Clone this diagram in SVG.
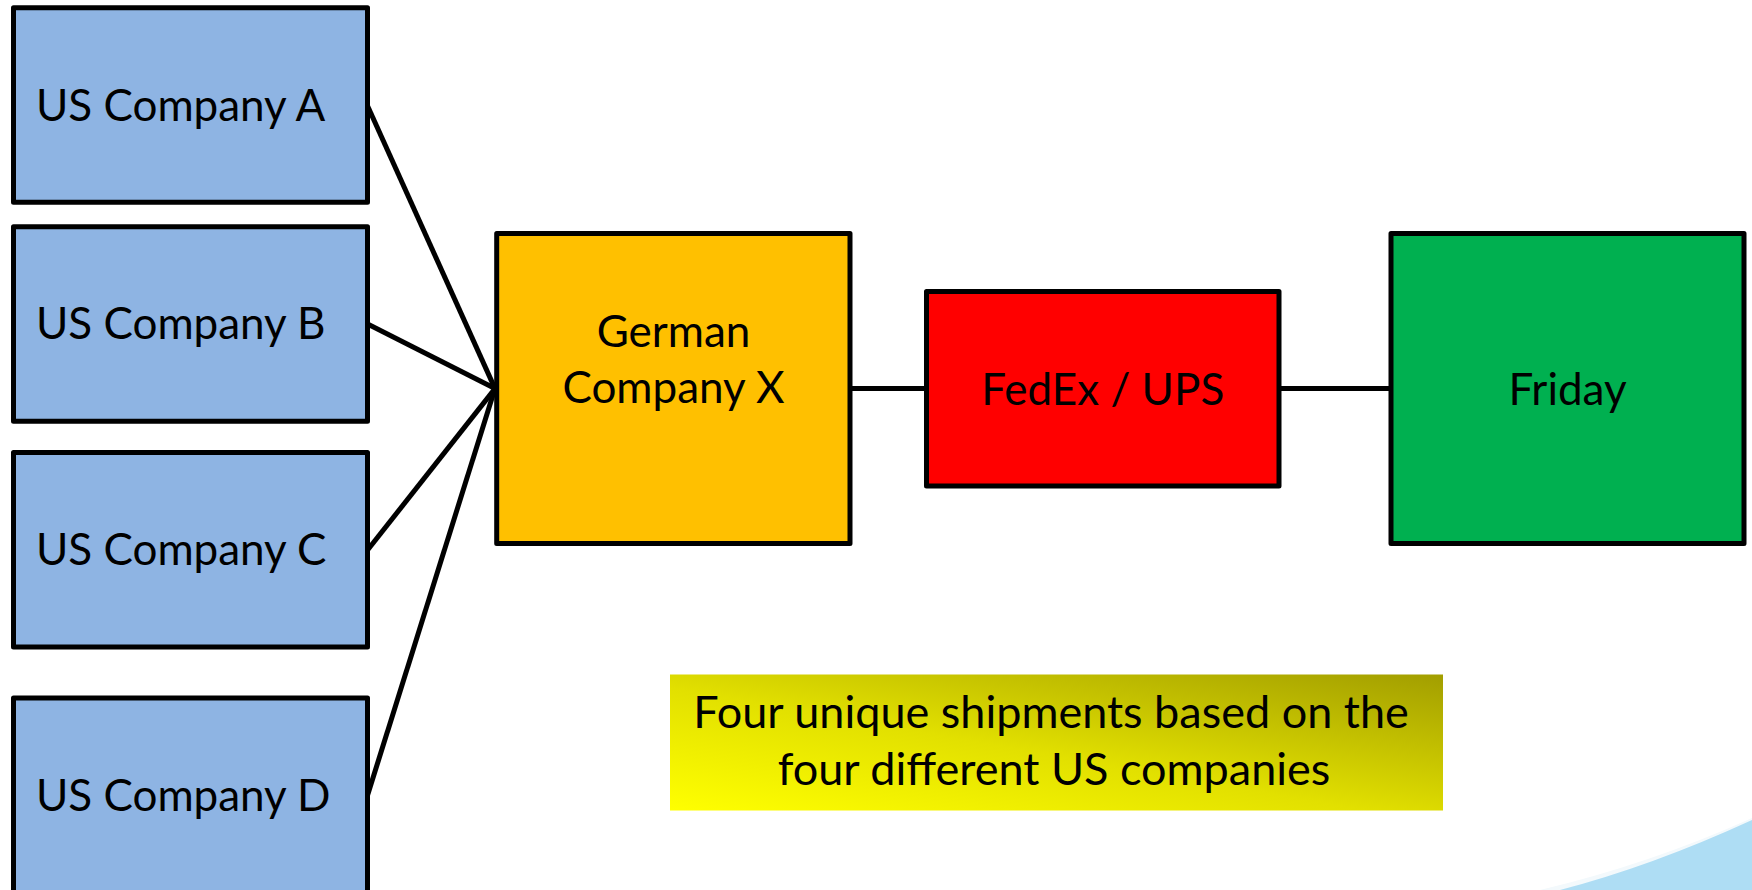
<svg xmlns="http://www.w3.org/2000/svg" width="1752" height="890" viewBox="0 0 1752 890">
<style>
.node{stroke:#000;stroke-width:5;stroke-linejoin:round}
.us{fill:#8EB4E3}
.lbl{font-family:Lato,"Open Sans","Liberation Sans",sans-serif;font-size:44px;fill:#000}
.note{font-size:45px}
.mid{text-anchor:middle}
.conn{stroke:#000;stroke-width:5;fill:none}
</style>
<defs>
<linearGradient id="yg" x1="0" y1="1" x2="1" y2="0">
<stop offset="0" stop-color="#FFFF00"/>
<stop offset="0.45" stop-color="#E2E000"/>
<stop offset="1" stop-color="#A29E00"/>
</linearGradient>
</defs>
<rect width="1752" height="890" fill="#FFFFFF"/>
<g id="swoosh">
<path d="M1540,890 Q1650,864 1752,818 L1752,890 Z" fill="#F3F9FC"/>
<path d="M1560,890 Q1652,866 1752,820 L1752,890 Z" fill="#AEDDF4"/>
</g>
<g id="connectors">
<line class="conn" x1="367.6" y1="106" x2="495" y2="388.6"/>
<line class="conn" x1="367.6" y1="324" x2="495" y2="388.6"/>
<line class="conn" x1="367.6" y1="550" x2="495" y2="388.6"/>
<line class="conn" x1="367.6" y1="795" x2="495" y2="388.6"/>
<line class="conn" x1="850" y1="388.6" x2="926.5" y2="388.6"/>
<line class="conn" x1="1279" y1="388.6" x2="1391" y2="388.6"/>
</g>
<g id="usA">
<rect class="node us" x="13.5" y="7.8" width="354" height="194.5"/>
<text class="lbl" x="36" y="121">US Company A</text>
</g>
<g id="usB">
<rect class="node us" x="13.5" y="226.8" width="354" height="194.5"/>
<text class="lbl" x="36" y="338.5">US Company B</text>
</g>
<g id="usC">
<rect class="node us" x="13.5" y="452.5" width="354" height="194.5"/>
<text class="lbl" x="36" y="565">US Company C</text>
</g>
<g id="usD">
<rect class="node us" x="13.5" y="698" width="354" height="194.5"/>
<text class="lbl" x="36" y="810.7">US Company D</text>
</g>
<g id="german">
<rect class="node" x="496.7" y="233.4" width="353.3" height="310" fill="#FFC000"/>
<text class="lbl mid" x="673.5" y="346.7">German</text>
<text class="lbl mid" x="673.5" y="402.7">Company X</text>
</g>
<g id="fedex">
<rect class="node" x="926.5" y="291.5" width="352.5" height="194.5" fill="#FF0000"/>
<text class="lbl mid" x="1102.8" y="404.5">FedEx / UPS</text>
</g>
<g id="friday">
<rect class="node" x="1391" y="233.4" width="353" height="310" fill="#00B050"/>
<text class="lbl mid" x="1567.5" y="404.5">Friday</text>
</g>
<g id="note">
<rect x="670" y="674.5" width="773" height="136" fill="url(#yg)"/>
<text class="lbl note mid" x="1051" y="728">Four unique shipments based on the</text>
<text class="lbl note mid" x="1054" y="785">four different US companies</text>
</g>
</svg>
